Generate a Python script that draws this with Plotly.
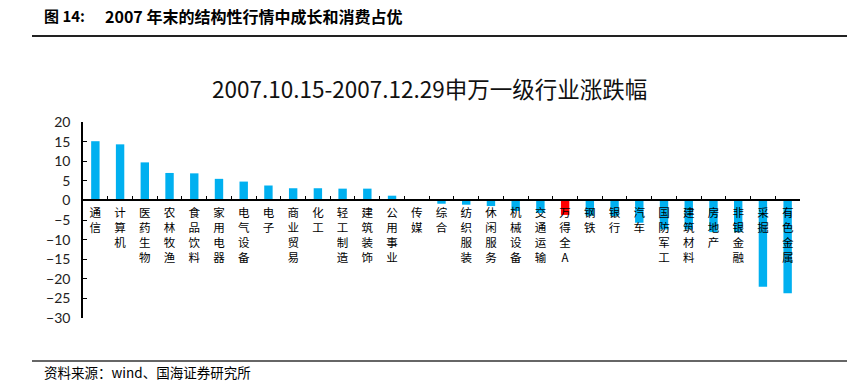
import plotly.graph_objects as go

categories = ["通信", "计算机", "医药生物", "农林牧渔", "食品饮料", "家用电器", "电气设备", "电子",
              "商业贸易", "化工", "轻工制造", "建筑装饰", "公用事业", "传媒", "综合", "纺织服装",
              "休闲服务", "机械设备", "交通运输", "万得全A", "钢铁", "银行", "汽车", "国防军工",
              "建筑材料", "房地产", "非银金融", "采掘", "有色金属"]
values = [15.1, 14.3, 9.7, 7.0, 6.9, 5.5, 4.8, 3.8, 3.1, 3.1, 3.0, 3.0, 1.2, 0.1, -0.85, -1.1,
          -1.45, -2.7, -3.2, -3.7, -3.9, -4.0, -5.7, -7.4, -7.4, -8.1, -8.1, -22.0, -23.7]
highlight = "万得全A"
y_ticks = [20, 15, 10, 5, 0, -5, -10, -15, -20, -25, -30]

header_num = "<b>图 14:</b>"
header_txt = "<b>2007 年末的结构性行情中成长和消费占优</b>"
chart_title = "2007.10.15-2007.12.29申万一级行业涨跌幅"
source = "资料来源：wind、国海证券研究所"

W, H = 847, 381
L, R, T, B = 83, 47, 122, 63
pw, ph = W - L - R, H - T - B


def px_x(p):
    return (p - L) / pw


def px_y(p):
    return (H - B - p) / ph


colors = ["#FF0000" if c == highlight else "#00B0F0" for c in categories]
tick_text = ["<br>".join(list(c)) for c in categories]

fig = go.Figure(go.Bar(x=categories, y=values, marker=dict(color=colors, line=dict(width=0)),
                       showlegend=False))

ymin, ymax = min(y_ticks), max(y_ticks)
fig.update_layout(
    width=W, height=H, autosize=False,
    margin=dict(l=L, r=R, t=T, b=B, pad=0),
    paper_bgcolor="white", plot_bgcolor="white",
    bargap=0.66,
    font=dict(family="Noto Sans CJK SC", color="#000"),
    xaxis=dict(
        type="category", tickmode="array", tickvals=categories, ticktext=tick_text,
        anchor="free", position=(0 - ymin) / (ymax - ymin),
        showline=True, linecolor="#000", linewidth=1.5,
        ticks="inside", ticklen=4, tickwidth=1.2, tickcolor="#000", tickson="boundaries",
        tickfont=dict(family="Noto Sans CJK SC", size=11.5, color="#000"),
        ticklabelstandoff=2,
        showgrid=False, zeroline=False, automargin=False, fixedrange=True,
        layer="above traces",
    ),
    yaxis=dict(
        range=[ymin, ymax], tickmode="array", tickvals=y_ticks,
        showline=True, linecolor="#000", linewidth=1.5,
        ticks="inside", ticklen=4, tickwidth=1.2, tickcolor="#000",
        tickfont=dict(family="Lato", size=14, color="#222"),
        ticklabelstandoff=8,
        showgrid=False, zeroline=False, automargin=False, fixedrange=True,
    ),
)

fig.add_annotation(text=header_num, xref="paper", yref="paper", x=px_x(42), y=px_y(16),
                   xanchor="left", yanchor="middle", showarrow=False,
                   font=dict(family="Noto Sans CJK SC", size=15, color="#000"))
fig.add_annotation(text=header_txt, xref="paper", yref="paper", x=px_x(103), y=px_y(16),
                   xanchor="left", yanchor="middle", showarrow=False,
                   font=dict(family="Noto Sans CJK SC", size=16, color="#000"))
fig.add_annotation(text=chart_title, xref="paper", yref="paper", x=px_x(429), y=px_y(88),
                   xanchor="center", yanchor="middle", showarrow=False,
                   font=dict(family="Noto Sans CJK SC", size=22.5, color="#111"))
fig.add_annotation(text=source, xref="paper", yref="paper", x=px_x(42), y=px_y(371.5),
                   xanchor="left", yanchor="middle", showarrow=False,
                   font=dict(family="Noto Sans CJK SC", size=13.5, color="#000"))

fig.add_shape(type="line", xref="paper", yref="paper", x0=px_x(32), x1=px_x(847),
              y0=px_y(36), y1=px_y(36), line=dict(color="#222", width=2))
fig.add_shape(type="line", xref="paper", yref="paper", x0=px_x(32), x1=px_x(847),
              y0=px_y(361), y1=px_y(361), line=dict(color="#333", width=1.5))

fig.write_html("out.html", config={"displayModeBar": False},
               post_script="document.body.style.margin='0';document.body.style.overflow='hidden';")
